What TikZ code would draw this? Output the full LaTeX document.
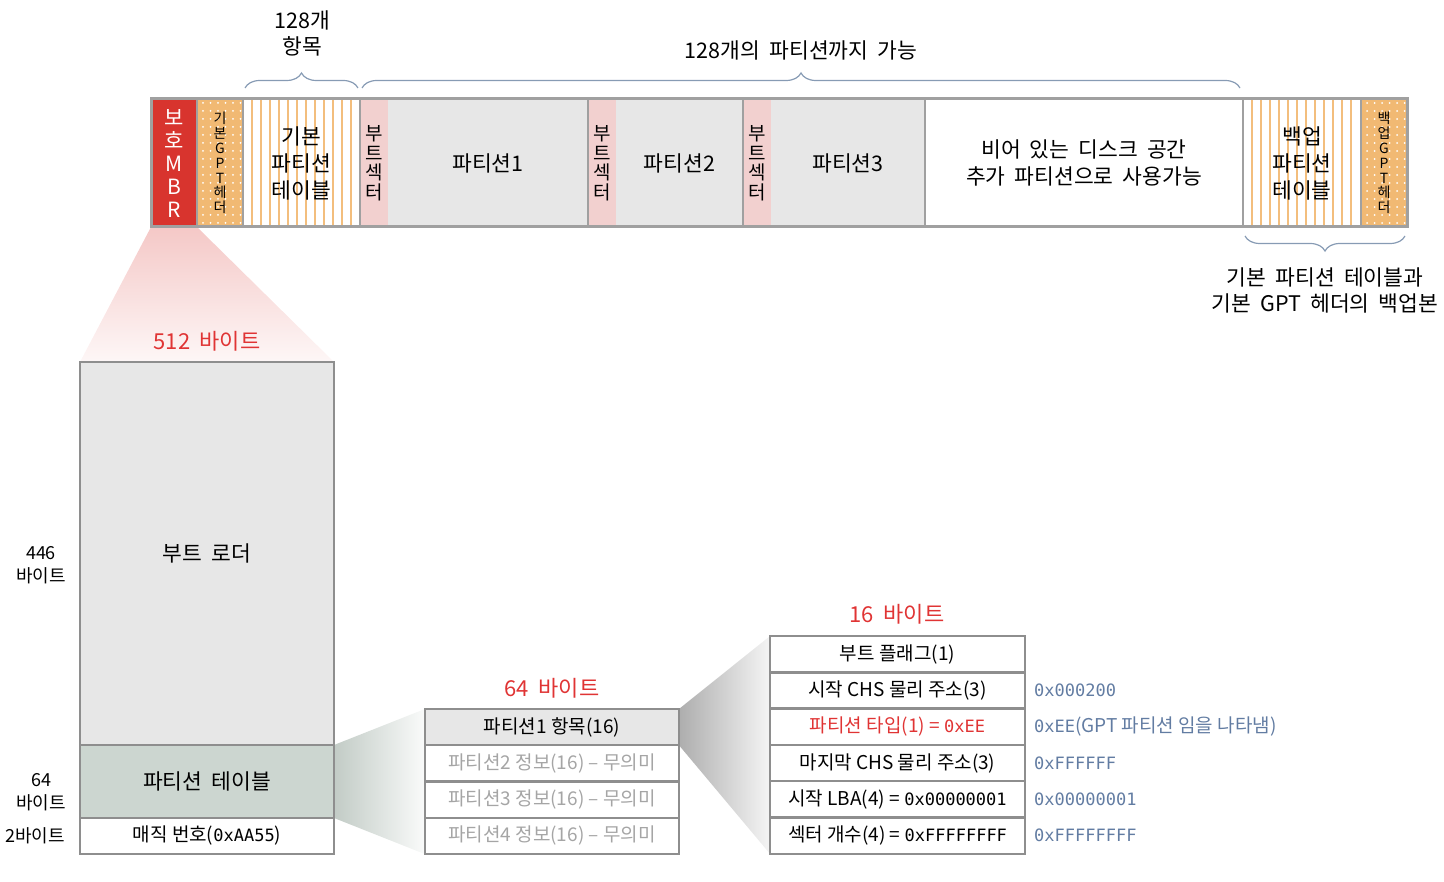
\documentclass[tikz,border=0pt]{standalone}
\usepackage{fontspec}
\setmainfont{Noto Sans CJK KR}
\newfontfamily\widekr{Noto Sans CJK KR}[WordSpace=1.9]
\newfontfamily\hexfont{DejaVu Sans Mono}
\usetikzlibrary{positioning,backgrounds,decorations.pathreplacing}

\definecolor{mbrred}{RGB}{216,52,46}
\definecolor{gptorange}{RGB}{241,185,115}
\definecolor{stripeor}{RGB}{243,190,125}
\definecolor{bootpink}{RGB}{242,208,207}
\definecolor{partgray}{RGB}{231,231,231}
\definecolor{framegray}{RGB}{160,160,160}
\definecolor{cellgray}{RGB}{142,142,142}
\definecolor{tblgreen}{RGB}{204,214,208}
\definecolor{labred}{RGB}{224,52,52}
\definecolor{notecol}{RGB}{98,124,162}
\definecolor{dimtext}{RGB}{165,165,165}
\definecolor{bracecol}{RGB}{135,155,180}

\newcommand\hx[1]{{\hexfont\fontsize{17pt}{20pt}\selectfont #1}}

\tikzset{
  seg/.style     = {minimum height=128pt, inner sep=0pt, outer sep=0pt, anchor=west},
  bigtxt/.style  = {font=\widekr\fontsize{21.5pt}{27pt}\selectfont, align=center},
  tbltxt/.style  = {font=\fontsize{19pt}{23pt}\selectfont},
  mbrtxt/.style  = {font=\fontsize{21pt}{23pt}\selectfont, align=center, text=white},
  vtxt/.style    = {font=\fontsize{19pt}{19.5pt}\selectfont, align=center},
  hdrtxt/.style  = {font=\fontsize{14pt}{14.8pt}\selectfont, align=center},
  sidetxt/.style = {font=\fontsize{18pt}{23pt}\selectfont, align=center},
  redlab/.style  = {text=labred, font=\widekr\fontsize{22pt}{25pt}\selectfont},
  note/.style    = {text=notecol, anchor=west, inner sep=2pt, tbltxt},
  frame/.style   = {draw=framegray, line width=3pt},
  sepline/.style = {draw=framegray, line width=2.5pt},
  blk/.style     = {draw=cellgray, line width=2.4pt, minimum width=254pt,
                    inner sep=0pt, outer sep=0pt},
  cellrow/.style = {blk, minimum height=36.3pt, tbltxt},
  gbrace/.style  = {decorate, decoration={brace, amplitude=15pt},
                    draw=bracecol, line width=1.2pt},
  stripes/.style = {fill=white, path picture={
      \foreach \k in {0,...,11}
        \fill[stripeor] ([xshift={(7.6+9*\k)*1pt}]path picture bounding box.north west)
          rectangle ([xshift={(10.4+9*\k)*1pt}]path picture bounding box.south west);}},
  dots/.style    = {fill=gptorange, path picture={
      \foreach \i in {0,...,5}
        \foreach \j in {0,...,15}
          \fill[white] ([xshift={(6+7.5*\i)*1pt}, yshift={-(4+8*\j)*1pt}]path picture bounding box.north west)
            circle[radius=1pt];}},
}

\begin{document}
\begin{tikzpicture}[x=1pt, y=-1pt]
\useasboundingbox (0,0) rectangle (1444,882);

% GPT disk layout
\node[seg, fill=mbrred, minimum width=46pt, mbrtxt] (pmbr) at (151,163) {보\\호\\M\\B\\R};
\node[seg, dots, minimum width=46pt, hdrtxt, right=0pt of pmbr] (gpth) {기\\본\\G\\P\\T\\헤\\더};
\node[seg, stripes, minimum width=117pt, bigtxt, right=0pt of gpth] (ptbl) {기본\\파티션\\테이블};
\node[seg, fill=bootpink, minimum width=28pt, vtxt, right=0pt of ptbl] (bs1) {부\\트\\섹\\터};
\node[seg, fill=partgray, minimum width=200pt, bigtxt, right=0pt of bs1] (p1) {파티션1};
\node[seg, fill=bootpink, minimum width=28pt, vtxt, right=0pt of p1] (bs2) {부\\트\\섹\\터};
\node[seg, fill=partgray, minimum width=127pt, bigtxt, right=0pt of bs2] (p2) {파티션2};
\node[seg, fill=bootpink, minimum width=28pt, vtxt, right=0pt of p2] (bs3) {부\\트\\섹\\터};
\node[seg, fill=partgray, minimum width=154pt, bigtxt, right=0pt of bs3] (p3) {파티션3};
\node[seg, fill=white, minimum width=318pt, bigtxt, right=0pt of p3] (free) {비어 있는 디스크 공간\\추가 파티션으로 사용가능};
\node[seg, stripes, minimum width=118pt, bigtxt, right=0pt of free] (bktbl) {백업\\파티션\\테이블};
\node[seg, dots, minimum width=46pt, hdrtxt, right=0pt of bktbl] (bkgpt) {백\\업\\G\\P\\T\\헤\\더};

\draw[frame] (pmbr.north west) rectangle (bkgpt.south east);
\foreach \s in {pmbr,gpth,ptbl,p1,p2,p3,free,bktbl}
  \draw[sepline] (\s.north east) -- (\s.south east);

% braces and their labels
\draw[gbrace] ([xshift=2pt,yshift=11pt]ptbl.north west) -- ([xshift=-2pt,yshift=11pt]ptbl.north east);
\draw[gbrace] ([xshift=2pt,yshift=11pt]bs1.north west) -- ([xshift=-3pt,yshift=11pt]free.north east);
\draw[gbrace] ([xshift=-2pt,yshift=-9pt]bkgpt.south east) -- ([xshift=2pt,yshift=-9pt]bktbl.south west);
\node[bigtxt, font=\widekr\fontsize{21.5pt}{26pt}\selectfont] (lbl128) at (302,33) {128개\\항목};
\node[bigtxt] (lblmax) at (801,50) {128개의 파티션까지 가능};
\node[bigtxt, font=\widekr\fontsize{21.5pt}{26pt}\selectfont] (lblbak) at (1325,290) {기본 파티션 테이블과\\기본 GPT 헤더의 백업본};

% protective MBR, 512 bytes
\node[blk, fill=partgray, minimum height=383pt, bigtxt] (boot) at (207,553.5) {부트 로더};
\node[blk, fill=tblgreen, minimum height=73pt, bigtxt, below=0pt of boot] (mbrpt) {파티션 테이블};
\node[blk, fill=white, minimum height=36pt, tbltxt, below=0pt of mbrpt] (magic) {매직 번호(\hx{0xAA55})};
\node[redlab] (lbl512) at (207,341) {512 바이트};
\node[sidetxt] (sz446) at (41,565) {446\\바이트};
\node[sidetxt] (sz64) at (41,792) {64\\바이트};
\node[sidetxt] (sz2) at (35,836) {2바이트};

% partition table, 64 bytes
\node[cellrow, fill=partgray] (pe1) at (552,727.1) {파티션1 항목(16)};
\node[cellrow, text=dimtext, below=0pt of pe1] (pe2) {파티션2 정보(16) -- 무의미};
\node[cellrow, text=dimtext, below=0pt of pe2] (pe3) {파티션3 정보(16) -- 무의미};
\node[cellrow, text=dimtext, below=0pt of pe3] (pe4) {파티션4 정보(16) -- 무의미};
\node[redlab] (lbl64) at (552,688) {64 바이트};

% partition entry, 16 bytes
\node[cellrow, minimum width=255pt] (fe1) at (897.5,654.2) {부트 플래그(1)};
\node[cellrow, minimum width=255pt, below=0pt of fe1] (fe2) {시작 CHS 물리 주소(3)};
\node[cellrow, minimum width=255pt, text=labred, below=0pt of fe2] (fe3) {파티션 타입(1) = \hx{0xEE}};
\node[cellrow, minimum width=255pt, below=0pt of fe3] (fe4) {마지막 CHS 물리 주소(3)};
\node[cellrow, minimum width=255pt, below=0pt of fe4] (fe5) {시작 LBA(4) = \hx{0x00000001}};
\node[cellrow, minimum width=255pt, below=0pt of fe5] (fe6) {섹터 개수(4) = \hx{0xFFFFFFFF}};
\node[redlab] (lbl16) at (897,614) {16 바이트};

\node[note, right=7pt of fe2] (n2) {\hx{0x000200}};
\node[note, right=7pt of fe3] (n3) {\hx{0xEE}(GPT 파티션 임을 나타냄)};
\node[note, right=7pt of fe4] (n4) {\hx{0xFFFFFF}};
\node[note, right=7pt of fe5] (n5) {\hx{0x00000001}};
\node[note, right=7pt of fe6] (n6) {\hx{0xFFFFFFFF}};

% zoom funnels
\begin{scope}[on background layer]
  \shade[top color=mbrred!27, bottom color=mbrred!4]
    (pmbr.south west) -- (pmbr.south east) -- (boot.north east) -- (boot.north west) -- cycle;
  \shade[left color=tblgreen!95!black, right color=tblgreen!10]
    (mbrpt.north east) -- (pe1.north west) -- (pe4.south west) -- (mbrpt.south east) -- cycle;
  \shade[left color=black!32, right color=black!4]
    (pe1.north east) -- (fe1.north west) -- (fe6.south west) -- (pe1.south east) -- cycle;
\end{scope}
\end{tikzpicture}
\end{document}
